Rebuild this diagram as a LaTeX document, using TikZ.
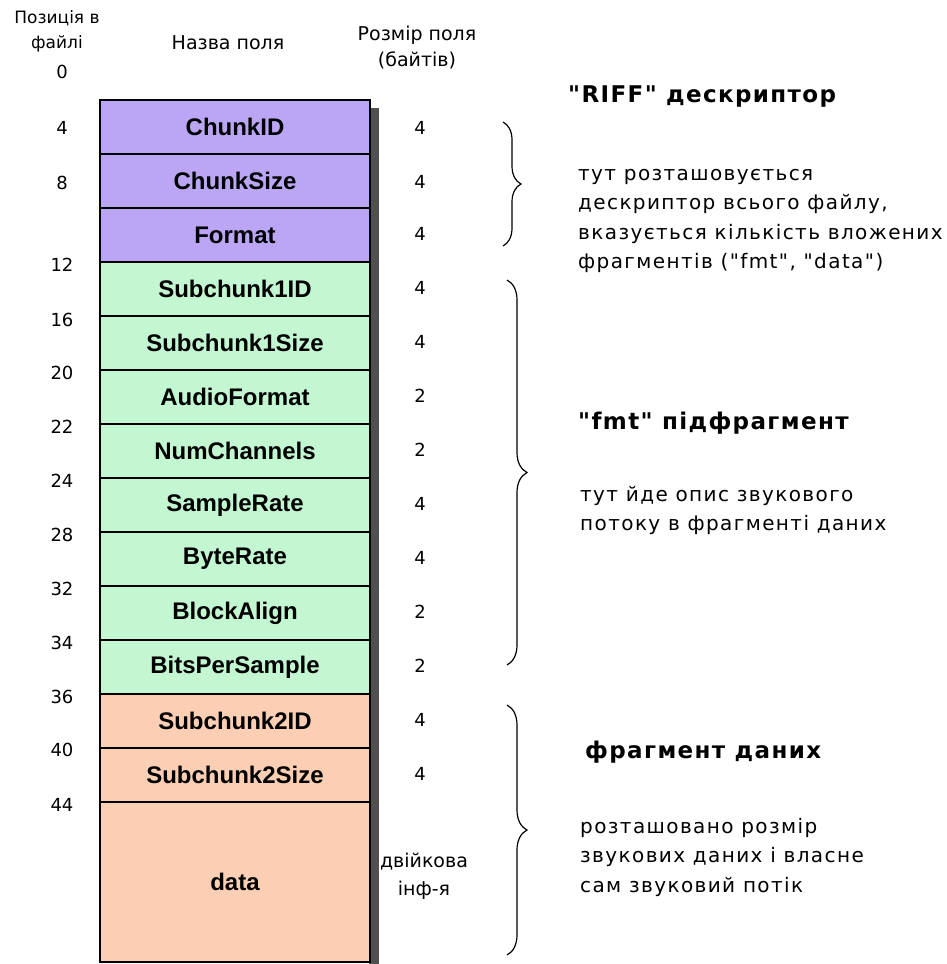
\documentclass[tikz,border=0pt]{standalone}
\usepackage{fontspec}
\setmainfont{DejaVu Sans}[Ligatures=TeXOff]
\newfontfamily\fieldfont{Liberation Sans}[Ligatures=TeXOff]
\newfontfamily\titlefont{DejaVu Sans}[Ligatures=TeXOff, LetterSpace=6]
\newfontfamily\bodyfont{DejaVu Sans}[Ligatures=TeXOff, LetterSpace=7]
\usetikzlibrary{decorations.pathreplacing}
\definecolor{riffcol}{RGB}{186,166,245}
\definecolor{fmtcol}{RGB}{194,247,210}
\definecolor{datacol}{RGB}{252,207,180}
\definecolor{shadowcol}{RGB}{80,80,80}
\tikzset{
  field/.style={draw=black, line width=2.4pt, minimum width=270pt, inner sep=0pt,
    font=\fieldfont\fontsize{24}{26}\selectfont\bfseries},
  offset/.style={font=\fontsize{18}{20}\selectfont, inner sep=0pt},
  bytes/.style={font=\fontsize{18}{20}\selectfont, inner sep=0pt},
  head/.style={font=\fontsize{17}{25}\selectfont, align=center, inner sep=0pt},
  title/.style={font=\titlefont\fontsize{23}{25}\selectfont\bfseries, anchor=west, inner sep=0pt},
  body/.style={font=\bodyfont\fontsize{20}{29.5}\selectfont, align=left, anchor=north west, inner sep=0pt},
  bracestyle/.style={decorate, decoration={brace, amplitude=#1}, line width=1.2pt}
}
\begin{document}
\begin{tikzpicture}[x=1pt,y=-1pt]
\useasboundingbox (0,0) rectangle (946,964);

% column headings
\node[head] (hpos) at (57,31) {Позиція в\\файлі};
\node[head, font=\fontsize{19}{25}\selectfont] (hname) at (228,43) {Назва поля};
\node[head, font=\fontsize{19}{26}\selectfont] (hsize) at (417,48) {Розмір поля\\(байтів)};

% drop shadow of the field stack
\fill[shadowcol] (369,108) rectangle (379,964);

% the fields
\node[field, fill=riffcol, minimum height=54pt] (f1) at (235,127) {ChunkID};
\node[field, fill=riffcol, minimum height=54pt] (f2) at (235,181) {ChunkSize};
\node[field, fill=riffcol, minimum height=54pt] (f3) at (235,235) {Format};
\node[field, fill=fmtcol, minimum height=54pt] (f4) at (235,289) {Subchunk1ID};
\node[field, fill=fmtcol, minimum height=54pt] (f5) at (235,343) {Subchunk1Size};
\node[field, fill=fmtcol, minimum height=54pt] (f6) at (235,397) {AudioFormat};
\node[field, fill=fmtcol, minimum height=54pt] (f7) at (235,451) {NumChannels};
\node[field, fill=fmtcol, minimum height=54pt] (f8) at (235,505) {SampleRate};
\node[field, fill=fmtcol, minimum height=54pt] (f9) at (235,559) {ByteRate};
\node[field, fill=fmtcol, minimum height=54pt] (f10) at (235,613) {BlockAlign};
\node[field, fill=fmtcol, minimum height=54pt] (f11) at (235,667) {BitsPerSample};
\node[field, fill=datacol, minimum height=54pt] (f12) at (235,721) {Subchunk2ID};
\node[field, fill=datacol, minimum height=54pt] (f13) at (235,775) {Subchunk2Size};
\node[field, fill=datacol, minimum height=160pt] (f14) at (235,882) {data};

% byte offsets
\foreach \v/\y [count=\i] in {0/72,4/128,8/183,12/265,16/320,20/373,22/427,24/481,28/535,32/589,34/643,36/697,40/750,44/805}
  \node[offset] (o\i) at (62,\y) {\v};

% field sizes
\foreach \v/\y [count=\i] in {4/128,4/182,4/234,4/288,4/342,2/396,2/450,4/504,4/558,2/612,2/666,4/720,4/774}
  \node[bytes] (s\i) at (420,\y) {\v};
\node[head, font=\fontsize{19}{28}\selectfont] (s14) at (424,876) {двійкова\\інф-я};

% braces grouping the chunks
\coordinate (b1t) at (503,122); \coordinate (b1b) at (503,246);
\coordinate (b2t) at (507,280); \coordinate (b2b) at (507,665);
\coordinate (b3t) at (507,705); \coordinate (b3b) at (507,955);
\draw[bracestyle=18pt] (b1t) -- (b1b);
\draw[bracestyle=20pt] (b2t) -- (b2b);
\draw[bracestyle=20pt] (b3t) -- (b3b);

% descriptions
\node[title] (t1) at (568,97) {"RIFF" дескриптор};
\node[body] (d1) at (578,169) {тут розташовується\\дескриптор всього файлу,\\вказується кількість вложених\\фрагментів ("fmt", "data")};
\node[title] (t2) at (578,423) {"fmt" підфрагмент};
\node[body] (d2) at (580,486) {тут йде опис звукового\\потоку в фрагменті даних};
\node[title] (t3) at (585,752) {фрагмент даних};
\node[body] (d3) at (580,818) {розташовано розмір\\звукових даних і власне\\сам звуковий потік};
\end{tikzpicture}
\end{document}
